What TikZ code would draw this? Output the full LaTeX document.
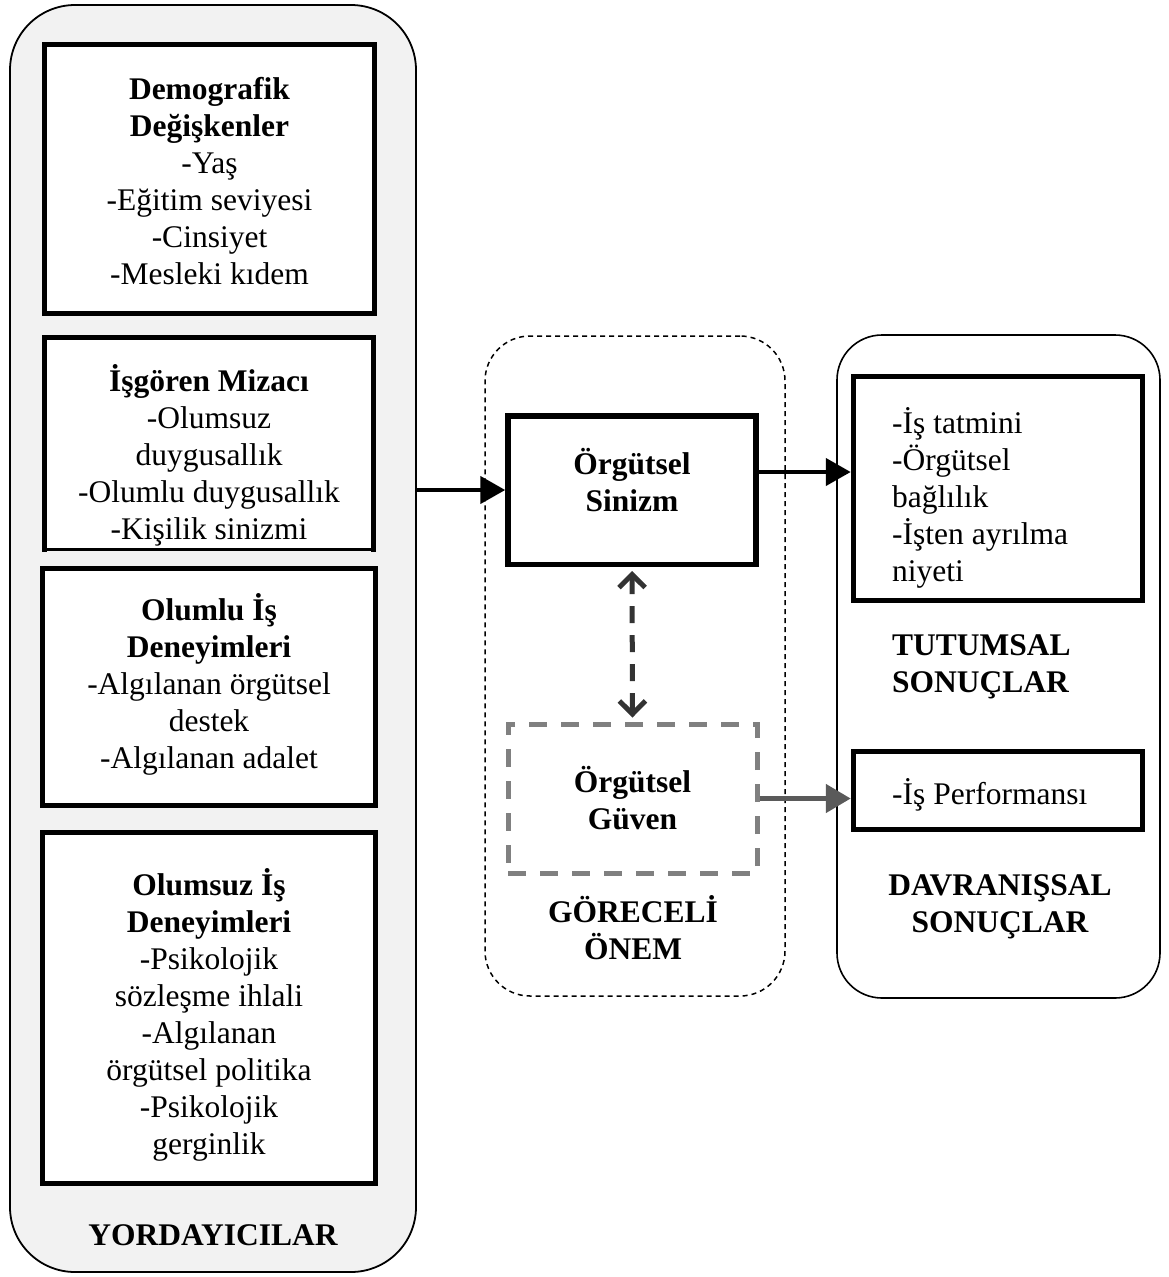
\documentclass[tikz,border=0pt]{standalone}
\usepackage{fontspec}
\setmainfont{Liberation Serif}
\usetikzlibrary{arrows.meta,calc}
\definecolor{panel}{HTML}{F2F2F2}
\definecolor{trustgray}{HTML}{808080}
\definecolor{arrgray}{HTML}{5A5A5A}
\definecolor{dblarr}{HTML}{333333}
\begin{document}
\begin{tikzpicture}[x=1pt,y=-1pt,
  font=\fontsize{31.5}{37}\selectfont,
  thickbox/.style={draw=black, line width=5.5pt, fill=white, inner sep=0pt},
  txt/.style={align=center, inner sep=0pt},
  ltxt/.style={align=left, inner sep=0pt, anchor=west},
  arr/.style={line width=4.5pt, -{Triangle[length=25pt,width=27pt]}},
  grayarr/.style={line width=5pt, arrgray, -{Triangle[length=25pt,width=28pt]}},
  dblarrow/.style={line width=5pt, dblarr, dash pattern=on 17pt off 12pt,
    {Straight Barb[length=13pt,width=26pt]}-{Straight Barb[length=13pt,width=26pt]}},
  panelbox/.style={draw=black, line width=1.8pt, inner sep=0pt},
]
\useasboundingbox (0,0) rectangle (1168,1277);

% outer groups
\node[panelbox, fill=panel, rounded corners=65pt, minimum width=406pt, minimum height=1267pt] (pred) at (213,638.5) {};
\node[panelbox, line width=1.5pt, dash pattern=on 5pt off 4pt, rounded corners=45pt, minimum width=300pt, minimum height=660pt] (rel) at (635,666) {};
\node[panelbox, line width=1.6pt, rounded corners=45pt, minimum width=323pt, minimum height=663pt] (outc) at (998.5,666.5) {};

% predictor boxes
\node[thickbox, minimum width=330pt, minimum height=269pt] (demo) at (209.5,179) {};
\node[txt] (demotxt) at (209.5,181) {\textbf{Demografik}\\\textbf{Değişkenler}\\-Yaş\\-Eğitim seviyesi\\-Cinsiyet\\-Mesleki kıdem};

\node[inner sep=0pt, fill=white, minimum width=329pt, minimum height=212pt] (mizac) at (209,443.5) {};
\draw[line width=5.5pt, line cap=rect] (mizac.south west) -- (mizac.north west) -- (mizac.north east) -- (mizac.south east);
\draw[line width=2.5pt] (mizac.south west) -- (mizac.south east);
\node[txt] (mizactxt) at (209,455) {\textbf{İşgören Mizacı}\\-Olumsuz\\duygusallık\\-Olumlu duygusallık\\-Kişilik sinizmi};

\node[thickbox, minimum width=333pt, minimum height=237pt] (olumlu) at (209,687) {};
\node[txt] (olumlutxt) at (209,684) {\textbf{Olumlu İş}\\\textbf{Deneyimleri}\\-Algılanan örgütsel\\destek\\-Algılanan adalet};

\node[thickbox, minimum width=333pt, minimum height=351pt] (olumsuz) at (209,1008) {};
\node[txt] (olumsuztxt) at (209,1015) {\textbf{Olumsuz İş}\\\textbf{Deneyimleri}\\-Psikolojik\\sözleşme ihlali\\-Algılanan\\örgütsel politika\\-Psikolojik\\gerginlik};

\node[txt, font=\fontsize{31.5}{37}\selectfont\bfseries] (predlbl) at (213,1235) {YORDAYICILAR};

% middle
\node[thickbox, minimum width=248pt, minimum height=148.5pt] (sin) at (632,490) {};
\node[txt, font=\fontsize{31.5}{37}\selectfont\bfseries] (sintxt) at (632,480) {Örgütsel\\Sinizm};

\node[draw=trustgray, line width=5pt, dash pattern=on 18pt off 14pt, inner sep=0pt, minimum width=249pt, minimum height=149pt] (gv) at (632.5,798.5) {};
\node[txt, font=\fontsize{31.5}{37}\selectfont\bfseries] (gvtxt) at (632.5,798) {Örgütsel\\Güven};

\node[txt, font=\fontsize{31.5}{37}\selectfont\bfseries] (rellbl) at (633,928) {GÖRECELİ\\ÖNEM};

% outcomes
\node[thickbox, minimum width=289pt, minimum height=224pt] (tt) at (998,488.5) {};
\node[ltxt] (tttxt) at (892,498) {-İş tatmini\\-Örgütsel\\bağlılık\\-İşten ayrılma\\niyeti};
\node[ltxt, font=\fontsize{31.5}{37}\selectfont\bfseries] (ttlbl) at (892,667) {TUTUMSAL\\SONUÇLAR};

\node[thickbox, minimum width=289pt, minimum height=78pt] (perf) at (998,790.5) {};
\node[ltxt] (perftxt) at (892,795) {-İş Performansı};
\node[txt, font=\fontsize{31.5}{37}\selectfont\bfseries] (davlbl) at (1000,907) {DAVRANIŞSAL\\SONUÇLAR};

% connectors
\draw[arr] (pred.east |- sin.west) -- (sin.west);
\draw[arr] ([yshift=18pt]sin.east) -- ([yshift=18pt]sin.east -| tt.west);
\draw[grayarr] (gv.east) -- (gv.east -| perf.west);
\draw[dblarrow] ([yshift=-4pt]sin.south) -- ([yshift=4pt]gv.north);
\end{tikzpicture}
\end{document}
